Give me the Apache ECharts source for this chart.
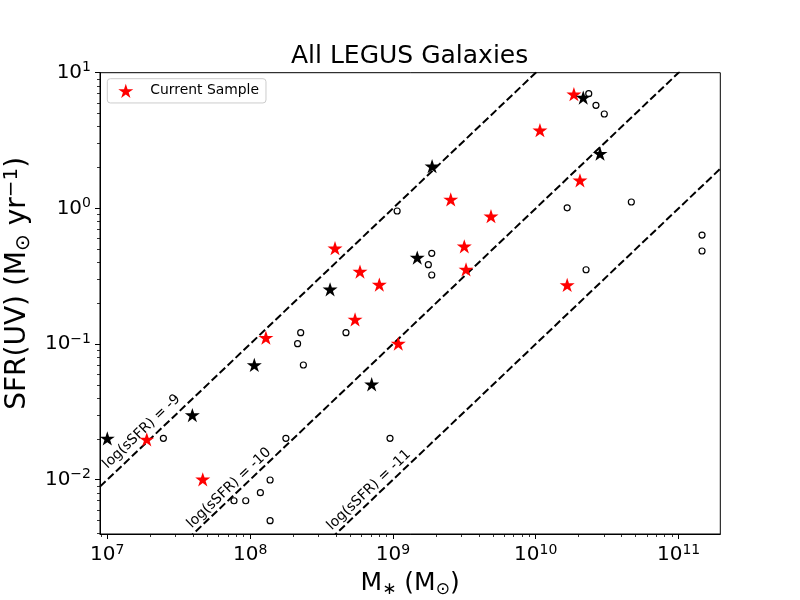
<!DOCTYPE html>
<html><head><meta charset="utf-8">
<script src="https://cdn.jsdelivr.net/npm/echarts@6/dist/echarts.min.js"></script>
<style>html,body{margin:0;padding:0;background:#fff}#c{width:800px;height:600px}</style>
</head><body><div id="c"></div>
<script>
// ---- data ----
const redStarMass = [1.89e7, 4.66e7, 1.29e8, 3.93e8, 5.88e8, 8.03e8, 5.43e8, 1.09e9, 2.54e9, 3.16e9, 3.25e9, 4.86e9, 1.07e10, 1.85e10, 2.04e10, 1.66e10];
const redStarSFR  = [0.0196, 0.00995, 0.110, 0.502, 0.338, 0.271, 0.150, 0.0996, 1.15, 0.519, 0.351, 0.864, 3.72, 6.85, 1.59, 0.269];
const blackStarMass = [1.0e7, 3.94e7, 1.07e8, 3.63e8, 7.1e8, 1.48e9, 1.88e9, 2.15e10, 2.82e10];
const blackStarSFR  = [0.0199, 0.0296, 0.0692, 0.250, 0.0499, 0.4285, 2.02, 6.48, 2.50];
const circleMass = [2.47e7, 7.71e7, 9.32e7, 1.18e8, 1.38e8, 1.38e8, 1.78e8, 2.15e8, 2.26e8, 2.36e8, 4.69e8, 9.54e8, 1.07e9, 1.77e9, 1.87e9, 1.87e9, 1.66e10, 2.25e10, 2.35e10, 2.64e10, 3.02e10, 4.67e10, 1.46e11, 1.46e11];
const circleSFR  = [0.0202, 0.0070, 0.0070, 0.00802, 0.00995, 0.00499, 0.0202, 0.1006, 0.1212, 0.0701, 0.1212, 0.0202, 0.956, 0.3844, 0.4664, 0.3228, 1.01, 0.353, 7.0, 5.75, 4.96, 1.114, 0.636, 0.485];
const sSFRLevels = [-9, -10, -11];
const sSFRLabelText = ['log(sSFR) = -9', 'log(sSFR) = -10', 'log(sSFR) = -11'];
const sSFRLabelMass = [1.74e7, 7.12e7, 6.8e8];
const sSFRLabelSFR  = [0.0226, 0.00869, 0.0084];
const xTickValues = [1e7, 1e8, 1e9, 1e10, 1e11];
const yTickValues = [1e-2, 1e-1, 1e0, 1e1];
const xRange = [8.89e6, 1.96e11];
const yRange = [0.00398, 10];

function minorTicks(lo, hi) {
  const out = [];
  for (let d = Math.floor(Math.log10(lo)); d <= Math.ceil(Math.log10(hi)); d++) {
    for (let k = 2; k <= 9; k++) {
      const v = k * Math.pow(10, d);
      if (v > lo && v < hi) out.push(v);
    }
  }
  return out;
}
function powLabel(v) {
  const l = Math.log10(v), e = Math.round(l);
  if (Math.abs(l - e) > 1e-6) return '';
  return '{b|10}{s|' + (e < 0 ? '\u2212' + (-e) : '' + e) + '}';
}
const tickRich = {
  b: { fontSize: 20, lineHeight: 24, color: '#000', fontFamily: 'DejaVu Sans' },
  s: { fontSize: 14, lineHeight: 11, verticalAlign: 'top', color: '#000', fontFamily: 'DejaVu Sans' }
};
const starPath = 'path://M0,-1L-0.2245,-0.309L-0.9511,-0.309L-0.3633,0.118L-0.5878,0.809L0,0.382L0.5878,0.809L0.3633,0.118L0.9511,-0.309L0.2245,-0.309Z';
const pair = (a, b) => a.map((m, i) => [m, b[i]]);

const mainX = {
  type: 'log', gridIndex: 0, position: 'bottom', min: xRange[0], max: xRange[1],
  axisLine: { show: true, lineStyle: { color: '#000', width: 1 } },
  axisTick: { show: true, length: 5, lineStyle: { color: '#000', width: 1 }, customValues: xTickValues },
  axisLabel: { show: true, margin: 9, formatter: powLabel, rich: tickRich, customValues: xTickValues },
  splitLine: { show: false },
  name: '{n|M}{sub|\u2217}{n| (M}{sub|\u2299}{n|)}', nameLocation: 'middle', nameGap: 34,
  nameTextStyle: { rich: {
    n: { fontSize: 25, lineHeight: 30, color: '#000', fontFamily: 'DejaVu Sans' },
    sub: { fontSize: 17, lineHeight: 12, verticalAlign: 'bottom', color: '#000', fontFamily: 'DejaVu Sans' } } }
};
const minorX = {
  type: 'log', gridIndex: 0, position: 'bottom', min: xRange[0], max: xRange[1],
  axisLine: { show: false }, axisLabel: { show: false }, splitLine: { show: false },
  axisTick: { show: true, length: 3, lineStyle: { color: '#000', width: 0.8 }, customValues: minorTicks(xRange[0], xRange[1]) }
};
const mainY = {
  type: 'log', gridIndex: 0, position: 'left', min: yRange[0], max: yRange[1],
  axisLine: { show: true, lineStyle: { color: '#000', width: 1 } },
  axisTick: { show: true, length: 5, lineStyle: { color: '#000', width: 1 }, customValues: yTickValues },
  axisLabel: { show: true, margin: 9, formatter: powLabel, rich: tickRich, customValues: yTickValues },
  splitLine: { show: false },
  name: '{n|SFR(UV) (M}{sub|\u2299}{n| yr}{sup|\u22121}{n|)}', nameLocation: 'middle', nameGap: 57, nameRotate: 90,
  nameTextStyle: { padding: [0, 0, 0, 40], rich: {
    n: { fontSize: 28, lineHeight: 32, color: '#000', fontFamily: 'DejaVu Sans' },
    sub: { fontSize: 20, lineHeight: 13, verticalAlign: 'bottom', color: '#000', fontFamily: 'DejaVu Sans' },
    sup: { fontSize: 20, lineHeight: 13, verticalAlign: 'top', color: '#000', fontFamily: 'DejaVu Sans' } } }
};
const minorY = {
  type: 'log', gridIndex: 0, position: 'left', min: yRange[0], max: yRange[1],
  axisLine: { show: false }, axisLabel: { show: false }, splitLine: { show: false },
  axisTick: { show: true, length: 3, lineStyle: { color: '#000', width: 0.8 }, customValues: minorTicks(yRange[0], yRange[1]) }
};

const lineSeries = sSFRLevels.map(k => ({
  type: 'line', name: 'sSFR ' + k, xAxisIndex: 0, yAxisIndex: 0, symbol: 'none', clip: true, silent: true,
  data: xRange.map(m => [m, m * Math.pow(10, k)]),
  lineStyle: { color: '#000', width: 2, type: [7.7, 3.3] }, z: 1
}));

const chart = echarts.init(document.getElementById('c'), null, { renderer: 'canvas' });
chart.setOption({
  animation: false,
  backgroundColor: '#fff',
  textStyle: { fontFamily: 'DejaVu Sans' },
  title: {
    text: 'All LEGUS Galaxies', left: 291, top: 44, padding: 0,
    textStyle: { fontSize: 25, fontWeight: 'normal', color: '#000', fontFamily: 'DejaVu Sans' }
  },
  legend: {
    data: ['Current Sample'], left: 107.3, top: 78.7, orient: 'vertical',
    padding: [5, 7, 5, 11], itemWidth: 15, itemHeight: 14.3,
    backgroundColor: 'rgba(255,255,255,0.8)', borderColor: '#cccccc', borderWidth: 1, borderRadius: 3,
    textStyle: { fontSize: 13.9, color: '#000', fontFamily: 'DejaVu Sans', padding: [0, 0, 0, 12] },
    selectedMode: false
  },
  grid: { left: 100, top: 72.7, width: 620.3, height: 461.3, show: true, borderColor: '#000', borderWidth: 1, backgroundColor: 'transparent', outerBoundsMode: 'none', containLabel: false },
  xAxis: [mainX, minorX],
  yAxis: [mainY, minorY],
  series: lineSeries.concat([
    {
      type: 'scatter', name: 'sSFR labels', xAxisIndex: 0, yAxisIndex: 0, symbolSize: 0, silent: true,
      itemStyle: { opacity: 1 },
      data: sSFRLabelMass.map((m, i) => ({ value: [m, sSFRLabelSFR[i]], name: sSFRLabelText[i] })),
      label: { show: true, position: 'inside', rotate: 43.5, formatter: p => p.name, fontSize: 14, color: '#000', opacity: 1,
               textBorderWidth: 0, textBorderColor: 'transparent', fontFamily: 'DejaVu Sans' },
      z: 2
    },
    {
      type: 'scatter', name: 'Current Sample', xAxisIndex: 0, yAxisIndex: 0,
      symbol: starPath, symbolSize: 15, symbolKeepAspect: true, symbolOffset: [0, -0.75],
      itemStyle: { color: '#ff0000', opacity: 1 }, data: pair(redStarMass, redStarSFR), z: 3
    },
    {
      type: 'scatter', name: 'Other stars', xAxisIndex: 0, yAxisIndex: 0,
      symbol: starPath, symbolSize: 15, symbolKeepAspect: true, symbolOffset: [0, -0.75],
      itemStyle: { color: '#000000', opacity: 1 }, data: pair(blackStarMass, blackStarSFR), z: 4
    },
    {
      type: 'scatter', name: 'Other galaxies', xAxisIndex: 0, yAxisIndex: 0,
      symbol: 'circle', symbolSize: 6,
      itemStyle: { color: 'rgba(0,0,0,0)', borderColor: '#000', borderWidth: 1.2, opacity: 1 },
      data: pair(circleMass, circleSFR), z: 5
    }
  ])
});
</script></body></html>
